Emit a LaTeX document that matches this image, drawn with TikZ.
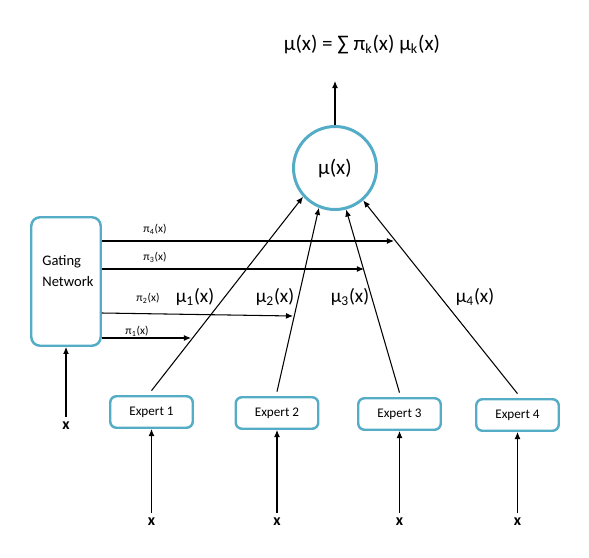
\documentclass[tikz,border=0pt]{standalone}
\usepackage{fontspec}
\setmainfont{Carlito}
\usetikzlibrary{arrows.meta}
\definecolor{boxblue}{RGB}{84,172,198}
\newcommand*{\xBot}{522}
\newcommand*{\mulbl}[1]{\textmu\textsubscript{#1}(x)}
\newcommand*{\pilbl}[1]{π\textsubscript{#1}(x)}

\begin{document}
\begin{tikzpicture}[x=0.02cm,y=-0.02cm,
    arr/.style={-{Latex[length=4pt,width=3.4pt]},line width=0.6pt},
    expertbox/.style={draw=boxblue,line width=1.4pt,rounded corners=3.5pt,
      minimum width=1.65cm,minimum height=0.63cm,inner sep=0pt,
      font=\fontsize{7.5}{9}\selectfont},
    gatebox/.style={draw=boxblue,line width=1.4pt,rounded corners=5pt,
      minimum width=1.39cm,minimum height=2.57cm,inner sep=0pt},
    outnode/.style={circle,draw=boxblue,line width=1.7pt,minimum size=1.66cm,
      inner sep=0pt,font=\fontsize{12}{14}\selectfont},
    inlbl/.style={font=\fontsize{9}{10}\selectfont\bfseries,inner sep=1pt},
    pi lbl/.style={font=\fontsize{6.5}{8}\selectfont,inner sep=0pt},
    mu lbl/.style={font=\fontsize{11}{13}\selectfont,inner sep=0pt}]
  \useasboundingbox (0,0) rectangle (589,558);

  % combiner
  \node[outnode] (mu) at (335,168) {\textmu(x)};
  \node[font=\fontsize{12}{14}\selectfont,inner sep=0pt] (sum) at (362,44)
    {\textmu(x) = ∑ π\textsubscript{k}(x) \textmu\textsubscript{k}(x)};
  \coordinate (top) at (335,81);
  \draw[arr] (mu.north) -- (top);

  % gating network
  \node[gatebox] (gate) at (66,281.5) {};
  \node[font=\fontsize{8.3}{10}\selectfont,align=left,anchor=west,inner sep=0pt]
    (gatetxt) at (42,271) {Gating\\[2pt]Network};
  \node[inlbl] (x0) at (66,426) {x};
  \draw[arr] ([yshift=2pt]x0.north) -- (gate.south);

  \coordinate (p4) at (394,241);
  \coordinate (p3) at (364,269);
  \coordinate (p2) at (293,316);
  \coordinate (p1) at (191,338);
  \draw[arr] (gate.east |- p4) -- (p4);
  \draw[arr] (gate.east |- p3) -- (p3);
  \draw[arr] (gate.east |- 0,313) -- (p2);
  \draw[arr] (gate.east |- p1) -- (p1);
  \node[pi lbl] (l4) at (155,229) {\pilbl{4}};
  \node[pi lbl] (l3) at (155,257) {\pilbl{3}};
  \node[pi lbl] (l2) at (148,298) {\pilbl{2}};
  \node[pi lbl] (l1) at (137,331) {\pilbl{1}};

  % experts
  \foreach \i/\ex/\ey/\ang in {1/151.5/412/222, 2/277/413/248,
                               3/399.5/414/285, 4/517.5/415/311} {
    \node[expertbox] (e\i) at (\ex,\ey) {Expert \i};
    \node[inlbl] (x\i) at (\ex,\xBot) {x};
    \draw[arr] ([yshift=2pt]x\i.north) -- (e\i.south);
    \draw[arr] ([yshift=2.5pt]e\i.north) -- (mu.\ang);
  }
  \node[mu lbl] (m1) at (195,297) {\mulbl{1}};
  \node[mu lbl] (m2) at (275,297) {\mulbl{2}};
  \node[mu lbl] (m3) at (350,297) {\mulbl{3}};
  \node[mu lbl] (m4) at (475,297) {\mulbl{4}};
\end{tikzpicture}
\end{document}
